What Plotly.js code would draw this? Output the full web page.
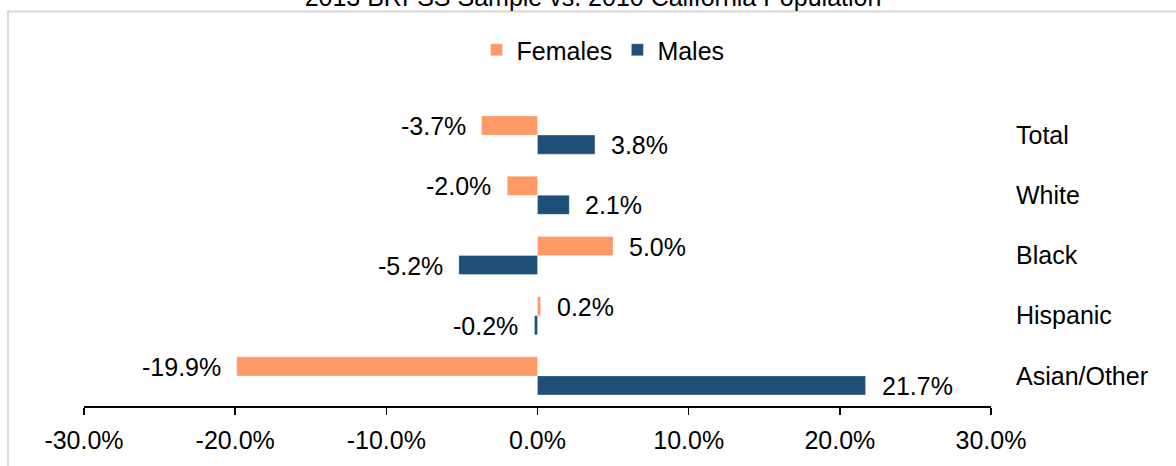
<!DOCTYPE html>
<html>
<head>
<meta charset="utf-8">
<script src="https://cdn.plot.ly/plotly-3.0.1.min.js"></script>
<style>
  html, body { margin: 0; padding: 0; background: #ffffff; }
  #chart { width: 1176px; height: 466px; }
</style>
</head>
<body>
<div id="chart"></div>
<script>
const categories = ["Total", "White", "Black", "Hispanic", "Asian/Other"];
const femalesValues = [-3.7, -2.0, 5.0, 0.2, -19.9];
const malesValues = [3.8, 2.1, -5.2, -0.2, 21.7];
const xTickValues = [-30, -20, -10, 0, 10, 20, 30];
const xTickLabels = ["-30.0%", "-20.0%", "-10.0%", "0.0%", "10.0%", "20.0%", "30.0%"];
const titleText = "2013 BRFSS Sample vs. 2010 California Population";

const FEMALE_COLOR = "#FF9966";
const MALE_COLOR = "#1F4E79";
const FONT = "Liberation Sans, Arial, sans-serif";
const FS = 25;

const traces = [
  {
    type: "bar", orientation: "h", name: "Females",
    y: categories, x: femalesValues,
    marker: { color: FEMALE_COLOR, line: { color: "rgba(255,255,255,0.6)", width: 0.5 } },
    hoverinfo: "skip"
  },
  {
    type: "bar", orientation: "h", name: "Males",
    y: categories, x: malesValues,
    marker: { color: MALE_COLOR, line: { color: "rgba(255,255,255,0.6)", width: 0.5 } },
    hoverinfo: "skip"
  }
];

function fmt(v) { return v.toFixed(1) + "%"; }
const annotations = [];
function addLabels(vals, yshift) {
  vals.forEach((v, i) => {
    annotations.push({
      x: v, y: categories[i], xref: "x", yref: "y",
      text: fmt(v), showarrow: false,
      xanchor: v < 0 ? "right" : "left",
      xshift: v < 0 ? -14 : 14,
      yshift: yshift,
      font: { family: FONT, size: FS, color: "#000000" }
    });
  });
}
addLabels(femalesValues, 9);
addLabels(malesValues, -10);

const layout = {
  width: 1176, height: 466,
  margin: { l: 84, r: 185, t: 105, b: 60, pad: 0 },
  paper_bgcolor: "#ffffff", plot_bgcolor: "#ffffff",
  font: { family: FONT, size: FS, color: "#000000" },
  title: {
    text: titleText,
    font: { family: FONT, size: FS, color: "#000000" },
    xref: "container", yref: "container",
    x: 593 / 1176, xanchor: "center",
    y: 1 - 6 / 466, yanchor: "bottom"
  },
  barmode: "group", bargap: 0.367, bargroupgap: 0,
  showlegend: true,
  legend: {
    orientation: "h", xref: "container", yref: "container",
    x: 603 / 1176, xanchor: "center", y: 1 - 50 / 466, yanchor: "middle",
    font: { family: FONT, size: FS, color: "#000000" },
    itemwidth: 30, tracegroupgap: 0, bgcolor: "rgba(0,0,0,0)"
  },
  xaxis: {
    range: [-30, 30], tickvals: xTickValues, ticktext: xTickLabels,
    showgrid: false, zeroline: false,
    showline: true, linecolor: "#000000", linewidth: 1.5,
    ticks: "outside", ticklen: 7, tickwidth: 1.5, tickcolor: "#000000",
    ticklabelstandoff: 4,
    tickfont: { family: FONT, size: FS, color: "#000000" },
    fixedrange: true
  },
  yaxis: {
    type: "category", categoryorder: "array", categoryarray: categories,
    autorange: "reversed", side: "right",
    showgrid: false, zeroline: false, showline: false, ticks: "",
    ticklabelstandoff: 24,
    tickfont: { family: FONT, size: FS, color: "#000000" },
    fixedrange: true
  },
  annotations: annotations,
  shapes: [{
    type: "rect", xref: "paper", yref: "paper",
    x0: (8 - 84) / 907, x1: 1.5, y0: -0.5, y1: (406 - 11.5) / 301,
    line: { color: "#D9D9D9", width: 2 }, fillcolor: "rgba(0,0,0,0)", layer: "below"
  }]
};

Plotly.newPlot("chart", traces, layout, { displayModeBar: false, staticPlot: true });
</script>
</body>
</html>
